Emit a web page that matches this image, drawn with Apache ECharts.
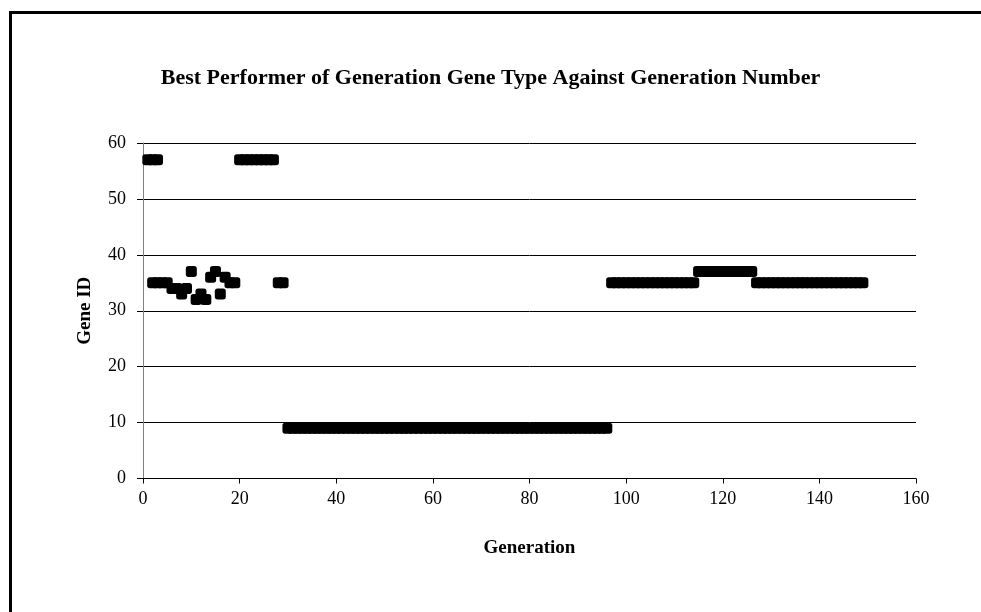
<!DOCTYPE html>
<html><head><meta charset="utf-8">
<script src="https://cdn.jsdelivr.net/npm/echarts@6/dist/echarts.min.js"></script>
<style>html,body{margin:0;padding:0;background:#fff}#c{width:981px;height:612px}</style>
</head><body><div id="c"></div>
<script>
const titleText = 'Best Performer of Generation Gene Type Against Generation Number';
const xTicks = [0,20,40,60,80,100,120,140,160];
const yTicks = [0,10,20,30,40,50,60];
const generation = [
  1,2,3,2,3,4,5,6,7,8,9,
  10,11,12,13,14,15,16,17,18,19,
  20,21,22,23,24,25,26,27,28,29,
  30,31,32,33,34,35,36,37,38,39,
  40,41,42,43,44,45,46,47,48,49,
  50,51,52,53,54,55,56,57,58,59,
  60,61,62,63,64,65,66,67,68,69,
  70,71,72,73,74,75,76,77,78,79,
  80,81,82,83,84,85,86,87,88,89,
  90,91,92,93,94,95,96,97,98,99,
  100,101,102,103,104,105,106,107,108,109,
  110,111,112,113,114,115,116,117,118,119,
  120,121,122,123,124,125,126,127,128,129,
  130,131,132,133,134,135,136,137,138,139,
  140,141,142,143,144,145,146,147,148,149
];
const geneId = [
  57,57,57,35,35,35,35,34,34,33,34,
  37,32,33,32,36,37,33,36,35,35,
  57,57,57,57,57,57,57,57,35,35,
  9,9,9,9,9,9,9,9,9,9,
  9,9,9,9,9,9,9,9,9,9,
  9,9,9,9,9,9,9,9,9,9,
  9,9,9,9,9,9,9,9,9,9,
  9,9,9,9,9,9,9,9,9,9,
  9,9,9,9,9,9,9,9,9,9,
  9,9,9,9,9,9,9,35,35,35,
  35,35,35,35,35,35,35,35,35,35,
  35,35,35,35,35,37,37,37,37,37,
  37,37,37,37,37,37,37,35,35,35,
  35,35,35,35,35,35,35,35,35,35,
  35,35,35,35,35,35,35,35,35,35
];
const points = generation.map((g, i) => [g, geneId[i]]);
const font = '"Liberation Serif", "Times New Roman", serif';
const chart = echarts.init(document.getElementById('c'), null, {renderer: 'canvas'});
chart.setOption({
  animation: false,
  backgroundColor: '#fff',
  graphic: [{
    type: 'rect', left: 8, top: 10, silent: true,
    shape: {width: 1000, height: 700},
    style: {fill: 'none', stroke: '#000', lineWidth: 3}
  }],
  title: {
    text: titleText, left: 'center', top: 62,
    textStyle: {fontFamily: font, fontSize: 22, fontWeight: 'bold', color: '#000'}
  },
  grid: {left: 143, right: 65, top: 143, bottom: 133.5, containLabel: false},
  xAxis: {
    type: 'value', min: xTicks[0], max: xTicks[xTicks.length - 1], interval: 20,
    name: 'Generation', nameLocation: 'middle', nameGap: 60,
    nameTextStyle: {fontFamily: font, fontSize: 19, fontWeight: 'bold', color: '#000'},
    axisLine: {show: true, onZero: false, lineStyle: {color: '#000', width: 1}},
    axisTick: {show: true, length: 5, lineStyle: {color: '#000'}},
    axisLabel: {fontFamily: font, fontSize: 18, color: '#000', margin: 12},
    splitLine: {show: false}
  },
  yAxis: {
    type: 'value', min: yTicks[0], max: yTicks[yTicks.length - 1], interval: 10,
    name: 'Gene ID', nameLocation: 'middle', nameGap: 48, nameRotate: 90,
    nameTextStyle: {fontFamily: font, fontSize: 19, fontWeight: 'bold', color: '#000'},
    axisLine: {show: true, lineStyle: {color: '#808080', width: 1}},
    axisTick: {show: true, length: 6, lineStyle: {color: '#000'}},
    axisLabel: {fontFamily: font, fontSize: 18, color: '#000', margin: 17},
    splitLine: {show: true, lineStyle: {color: '#000', width: 1}}
  },
  series: [{
    type: 'scatter', data: points, symbol: 'roundRect', symbolSize: [11, 11],
    itemStyle: {color: '#000', opacity: 1}, clip: false
  }]
});
</script></body></html>
